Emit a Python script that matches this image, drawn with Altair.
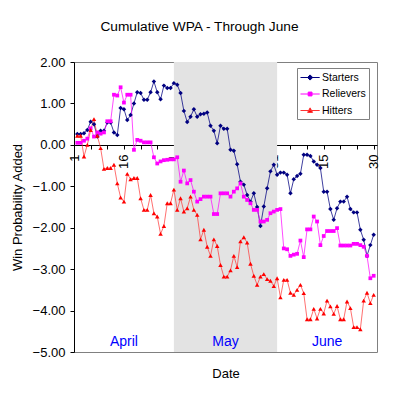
import altair as alt
import pandas as pd

FONT = "Liberation Sans"

# ---- data (day of season: April 1 = 1, June 30 = 91) ----
days = list(range(2, 92))
starters = [0.26, 0.26, 0.28, 0.36, 0.56, 0.50, 0.20, 0.34, 0.34, 0.54,
            0.54, 0.30, 0.24, 0.89, 0.86, 0.60, 0.72, 1.00, 1.27, 1.25,
            1.09, 1.09, 1.27, 1.53, 1.27, 1.10, 1.43, 1.37, 1.37, 1.49,
            1.45, 1.25, 0.82, 0.55, 0.68, 0.86, 0.68, 0.74, 0.75, 0.78,
            0.46, 0.34, 0.04, 0.46, 0.39, 0.39, -0.12, -0.14, -0.47, -0.89,
            -0.96, -1.21, -1.37, -1.17, -1.50, -1.96, -1.49, -1.05, -0.64, -0.48,
            -0.72, -0.67, -0.67, -0.72, -1.17, -0.83, -0.75, -0.70, -0.24, -0.24,
            -0.27, -0.40, -0.48, -0.56, -1.13, -1.13, -1.55, -1.81, -1.53, -1.37,
            -1.37, -1.25, -1.55, -1.63, -1.63, -2.05, -2.29, -2.68, -2.42, -2.17]
relievers = [0.05, 0.05, 0.10, 0.15, 0.40, 0.20, 0.30, 0.27, 0.30, 0.57,
             0.57, 1.21, 1.19, 1.39, 1.02, 1.21, 1.21, -0.12, 0.12, 0.10,
             0.06, 0.06, 0.06, -0.30, -0.45, -0.40, -0.37, -0.36, -0.35, -0.35,
             -0.30, -0.89, -0.62, -0.93, -0.85, -1.13, -1.37, -1.31, -1.25, -1.25,
             -1.25, -1.67, -1.67, -1.17, -1.17, -1.17, -1.25, -1.13, -1.05, -0.93,
             -1.25, -1.33, -1.41, -1.57, -1.57, -1.85, -1.85, -1.81, -1.65, -1.61,
             -1.57, -1.55, -2.50, -2.52, -2.68, -2.65, -2.63, -2.31, -2.71, -2.04,
             -2.04, -1.73, -1.85, -2.42, -2.20, -2.08, -2.08, -2.08, -2.01, -2.43,
             -2.43, -2.43, -2.43, -2.39, -2.39, -2.42, -2.46, -2.68, -3.22, -3.16]
hitters = [0.22, 0.22, -0.28, 0.00, 0.36, 0.62, 0.22, -0.08, -0.58, -0.56,
           -0.56, -0.48, -0.93, -1.27, -1.37, -0.70, -0.83, -0.80, -0.80, -1.29,
           -1.57, -1.57, -1.21, -1.65, -1.73, -2.15, -1.96, -1.41, -1.41, -1.08,
           -1.57, -1.29, -1.61, -1.53, -1.25, -1.57, -1.69, -2.28, -2.05, -2.46,
           -2.68, -2.28, -2.44, -2.90, -3.18, -3.18, -3.03, -2.68, -2.95, -2.33,
           -2.23, -2.36, -2.87, -3.16, -3.38, -3.18, -3.12, -3.24, -3.28, -3.41,
           -3.22, -3.68, -3.26, -3.26, -3.57, -3.62, -3.50, -3.38, -3.58, -4.21,
           -4.21, -3.96, -4.19, -3.96, -4.07, -3.76, -3.90, -4.08, -3.89, -4.21,
           -4.21, -3.78, -3.94, -4.40, -4.40, -4.45, -3.76, -3.57, -3.82, -3.62]

series_names = ["Starters", "Relievers", "Hitters"]
marker_colors = ["#000080", "#FF00FF", "#FF0000"]
line_colors = ["#000080", "#FF00FF", "#FF3333"]
line_opac = [0.75, 0.7, 0.7]
marker_shapes = ["diamond", "square", "triangle-up"]
# legend symbols: a short line with the series marker in its middle
legend_paths = [
    "M-1,0H2.2M0.6,-0.43L1.03,0L0.6,0.43L0.17,0Z",
    "M-1,0H2.2M0.28,-0.32H0.92V0.32H0.28Z",
    "M-1,0H2.2M0.6,-0.44L1.01,0.32H0.19Z",
]

month_names = ["April", "May", "June"]
month_start = [1, 31, 62]
month_end = [31, 62, 92]
shaded_month = "May"

tick_days = list(range(1, 92, 5))
label_days = [1, 16, 31, 46, 61, 76, 91]
label_text = ["1", "16", "1", "16", "31", "15", "30"]
y_ticks = [-5, -4, -3, -2, -1, 0, 1, 2]

# ---- tables ----
rows = []
for name, vals in zip(series_names, [starters, relievers, hitters]):
    for d, v in zip(days, vals):
        rows.append({"day": d, "wpa": v, "series": name})
df = pd.DataFrame(rows)

months_df = pd.DataFrame({
    "month": month_names,
    "start": month_start,
    "end": month_end,
    "mid": [(s + e) / 2 for s, e in zip(month_start, month_end)],
    "ypos": [-4.75] * 3,
})
shade_df = months_df[months_df["month"] == shaded_month]
legend_df = pd.DataFrame({"series": series_names})

label_expr = "''"
for d, t in reversed(list(zip(label_days, label_text))):
    label_expr = f"datum.value == {d} ? '{t}' : ({label_expr})"

x_scale = alt.Scale(domain=[1, 92], nice=False, zero=False)
y_scale = alt.Scale(domain=[-5, 2], nice=False, zero=False)

x_axis = alt.Axis(
    values=tick_days, labelExpr=label_expr, labelAngle=270, labelAlign="right",
    labelBaseline="middle", labelPadding=5, tickSize=4, offset=-207,
    domainColor="black", tickColor="black", labelColor="black",
    labelFontSize=13, labelFont=FONT, grid=False, labelFlush=False,
    labelOverlap=False, labelBound=False,
    title="Date", titleFontSize=13, titleFont=FONT, titleFontWeight="normal",
    titleColor="black", titleY=228, titleBaseline="middle",
)
y_axis = alt.Axis(
    values=y_ticks, format=".2f", tickSize=4, labelPadding=5,
    domainColor="black", tickColor="black", labelColor="black",
    labelFontSize=13, labelFont=FONT, grid=False,
    title="Win Probability Added", titleFontSize=13, titleFont=FONT,
    titleFontWeight="normal", titleColor="black", titlePadding=8,
)

def X(field):
    return alt.X(field, type="quantitative", scale=x_scale, axis=x_axis)

def Y(field):
    return alt.Y(field, type="quantitative", scale=y_scale, axis=y_axis)

layers = []
layers.append(
    alt.Chart(shade_df).mark_rect(color="#E3E3E3").encode(
        x=X("start"), x2="end",
        y=alt.YDatum(2, scale=y_scale, axis=y_axis), y2=alt.Y2Datum(-5),
    )
)
for name, lc, op in zip(series_names, line_colors, line_opac):
    layers.append(
        alt.Chart(df).transform_filter(alt.datum.series == name)
        .mark_line(color=lc, strokeWidth=1, opacity=op)
        .encode(x=X("day"), y=Y("wpa"))
    )
for name, mc, sh in zip(series_names, marker_colors, marker_shapes):
    layers.append(
        alt.Chart(df).transform_filter(alt.datum.series == name)
        .mark_point(shape=sh, filled=True, size=20 if sh != "square" else 14,
                    color=mc, opacity=1)
        .encode(x=X("day"), y=Y("wpa"))
    )
layers.append(
    alt.Chart(months_df).mark_text(color="#0000FF", fontSize=14, font=FONT,
                                   baseline="middle", align="center")
    .encode(x=X("mid"), y=Y("ypos"), text="month:N")
)

leg = alt.Legend(
    orient="none", legendX=223, legendY=6, title=None,
    strokeColor="#808080", fillColor="white", padding=3,
    labelFontSize=10.5, labelFont=FONT, labelColor="black",
    symbolSize=144, symbolStrokeWidth=1, symbolOpacity=1,
    rowPadding=4.5, labelOffset=9,
)
layers.append(
    alt.Chart(legend_df).mark_point(filled=True, opacity=0, size=144).encode(
        fill=alt.Fill("series:N", scale=alt.Scale(domain=series_names, range=marker_colors), legend=leg),
        stroke=alt.Stroke("series:N", scale=alt.Scale(domain=series_names, range=line_colors), legend=leg),
        shape=alt.Shape("series:N", scale=alt.Scale(domain=series_names, range=legend_paths), legend=leg),
    )
)

chart = alt.layer(*layers).properties(
    width=303, height=290,
    autosize=alt.AutoSizeParams(type="none"),
    padding={"left": 66, "top": 54, "right": 15, "bottom": 34},
    title=alt.TitleParams(
        "Cumulative WPA - Through June", fontSize=13.7, fontWeight="normal",
        font=FONT, color="black", anchor="middle", dx=-26, offset=22,
    ),
    background="white",
).configure_view(stroke="#808080", strokeWidth=1)

chart.save("out.html", embed_options={"renderer": "svg", "actions": False})
